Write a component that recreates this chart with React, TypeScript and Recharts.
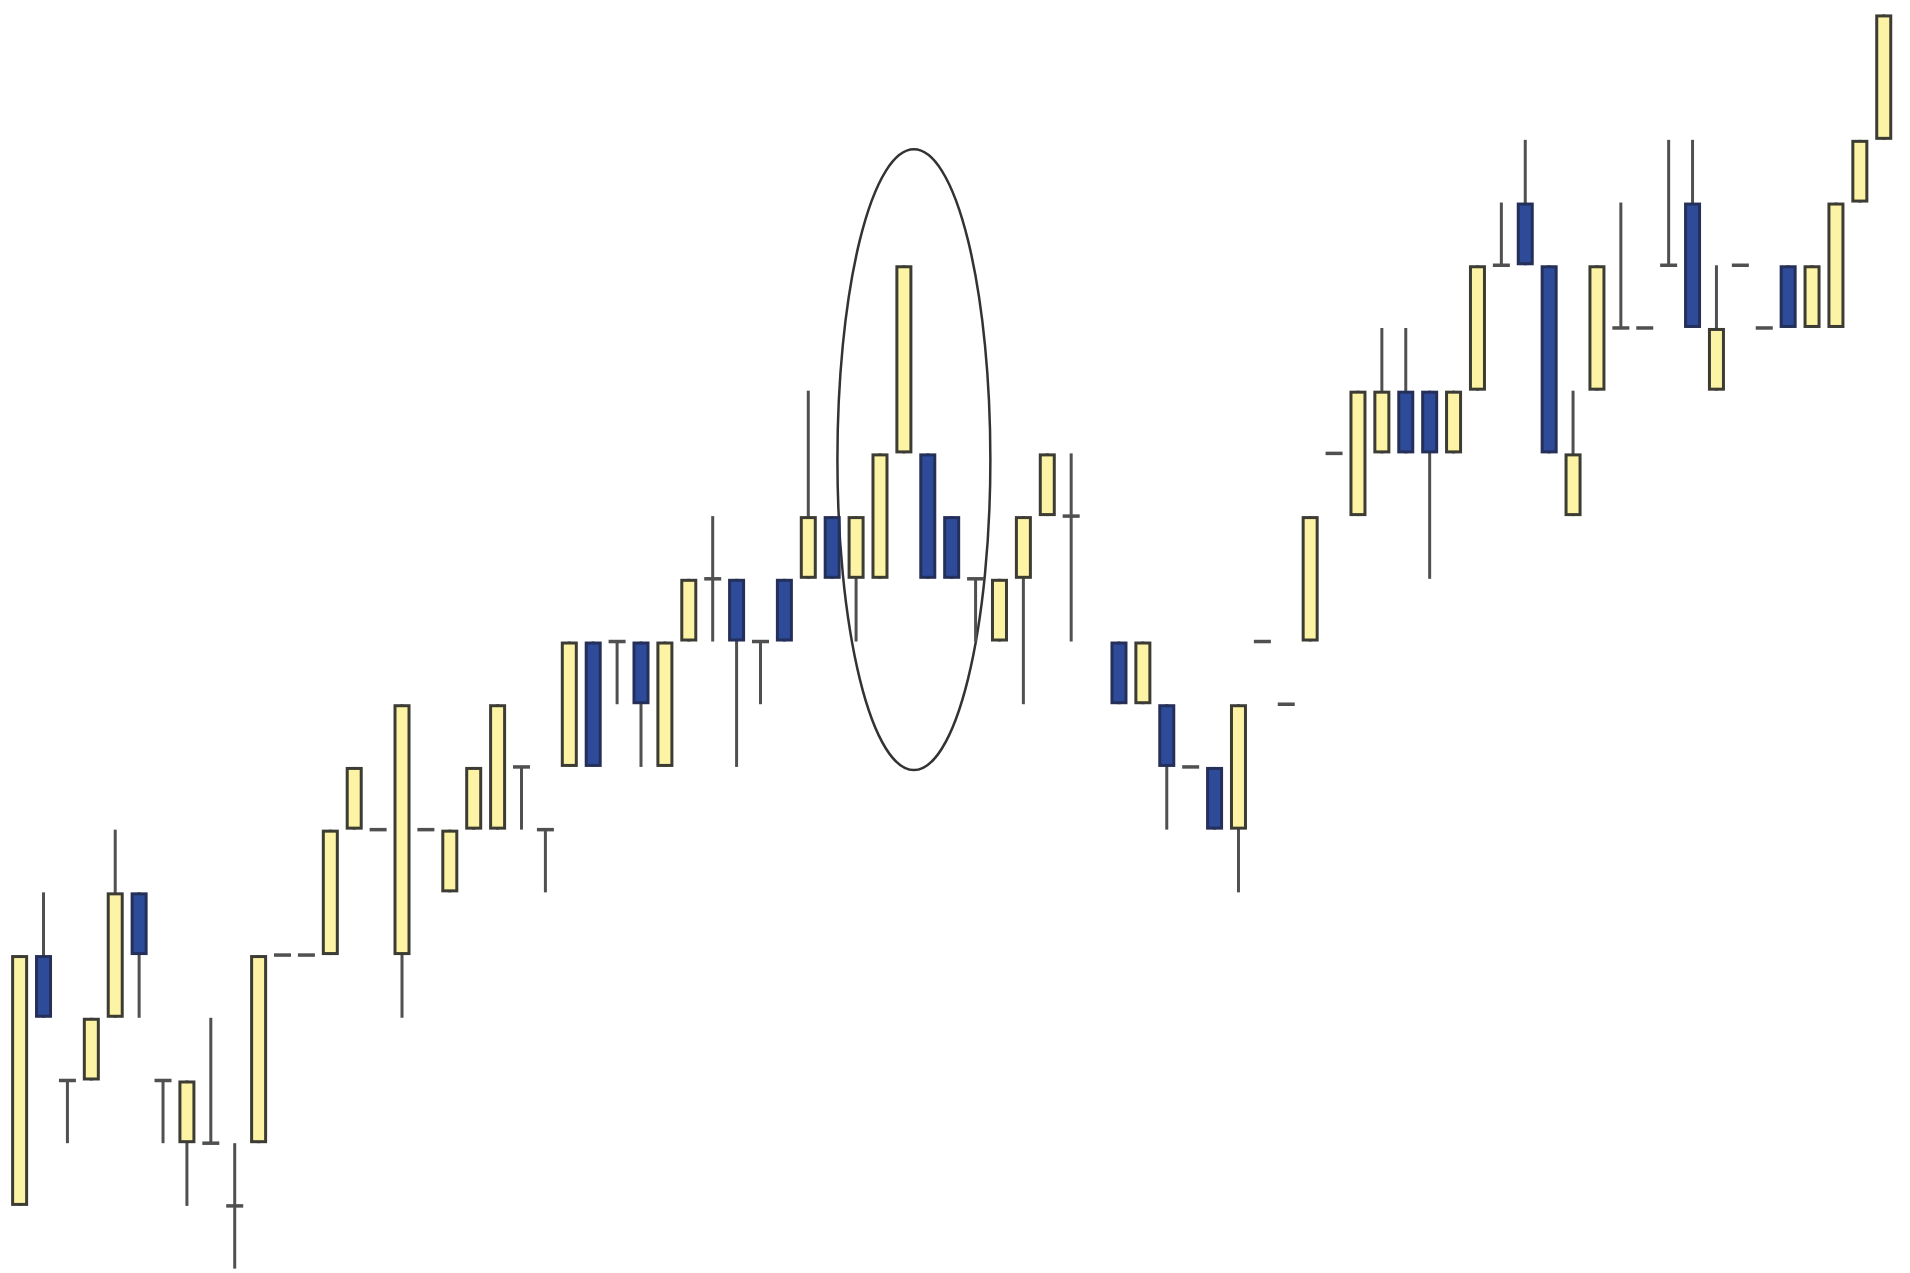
import { ComposedChart, Bar, XAxis, YAxis, ReferenceArea } from "recharts";

// price levels per session (slot 45 is an empty session)
const opens = [
  0, 4, 2, 2, 3, 5, 2, 1, 1, 0, 1, 4, 4, 4, 6, 6, 4, 6, 5, 6,
  6, 7, 6, 7, 9, 9, 9, 7, 9, 10, 10, 9, 10, 10, 11, 10, 10, 12, 12, 11,
  10, 9, 10, 11, 11, null, 9, 8, 8, 7, 7, 6, 9, 8, 9, 12, 11, 12, 13, 13,
  12, 13, 15, 16, 15, 11, 13, 14, 14, 15, 16, 13, 15, 14, 15, 14, 14, 16, 17,
];
const highs = [
  4, 5, 2, 3, 6, 5, 2, 2, 3, 1, 4, 4, 4, 6, 7, 6, 8, 6, 6, 7,
  8, 7, 6, 9, 9, 9, 9, 9, 10, 11, 10, 9, 10, 13, 11, 11, 12, 15, 12, 11,
  10, 10, 11, 12, 12, null, 9, 9, 8, 7, 7, 8, 9, 8, 11, 12, 13, 14, 14, 13,
  13, 15, 16, 17, 15, 13, 15, 16, 14, 17, 17, 15, 15, 14, 15, 15, 16, 17, 19,
];
const lows = [
  0, 3, 1, 2, 3, 3, 1, 0, 1, -1, 1, 4, 4, 4, 6, 6, 3, 6, 5, 6,
  6, 6, 5, 7, 7, 8, 7, 7, 9, 9, 7, 8, 9, 10, 10, 9, 10, 12, 10, 10,
  9, 9, 8, 11, 9, null, 8, 8, 6, 7, 6, 5, 9, 8, 9, 12, 11, 12, 12, 10,
  12, 13, 15, 15, 12, 11, 13, 14, 14, 15, 14, 13, 15, 14, 14, 14, 14, 16, 17,
];
const closes = [
  4, 3, 2, 3, 5, 4, 2, 2, 1, 0, 4, 4, 4, 6, 7, 6, 8, 6, 6, 7,
  8, 7, 6, 9, 7, 9, 8, 9, 10, 10, 9, 9, 9, 11, 10, 11, 12, 15, 10, 10,
  10, 10, 11, 12, 11, null, 8, 9, 7, 7, 6, 8, 9, 8, 11, 12, 13, 13, 12, 12,
  13, 15, 15, 15, 12, 12, 15, 14, 14, 15, 14, 14, 15, 14, 14, 15, 16, 17, 19,
];

// highlighted area (ellipse) in slot / level units
const ringSlots = [34.2, 40.6];
const ringLevels = [6.95, 16.85];

const X_MIN = -0.84;
const X_MAX = 79.08;
const Y_MIN = -1.07;
const Y_MAX = 19.23;

const UP = "#fcf4a4";
const DOWN = "#2e4b9a";
const EDGE = "#3c3c34";
const WICK = "#505050";

const data = opens.map((o, i) => ({
  slot: i,
  o,
  h: highs[i],
  l: lows[i],
  c: closes[i],
  range: o == null ? null : [Y_MIN, highs[i]],
}));

const Candle = (props: any) => {
  const { x, y, width, height, payload } = props;
  if (payload == null || payload.o == null) return null;
  const { o, h, l, c } = payload;
  const top = Math.min(y, y + height);
  const k = Math.abs(height) / (h - Y_MIN);
  const py = (v: number) => top + (h - v) * k;
  const cx = x + width / 2;
  const wick =
    h > l ? (
      <line x1={cx} x2={cx} y1={py(h)} y2={py(l)} stroke={WICK} strokeWidth={3} />
    ) : null;
  if (o === c) {
    return (
      <g>
        {wick}
        <line x1={x} x2={x + width} y1={py(o)} y2={py(o)} stroke={WICK} strokeWidth={3.5} />
      </g>
    );
  }
  const up = c > o;
  const yTop = py(Math.max(o, c));
  const yBot = py(Math.min(o, c));
  return (
    <g>
      {wick}
      <rect
        x={x + 1.5}
        y={yTop + 1.5}
        width={width - 3}
        height={yBot - yTop - 3}
        fill={up ? UP : DOWN}
        stroke={up ? EDGE : "#25305a"}
        strokeWidth={3}
      />
    </g>
  );
};

const Ring = (p: any) => (
  <ellipse
    cx={p.x + p.width / 2}
    cy={p.y + p.height / 2}
    rx={Math.abs(p.width) / 2}
    ry={Math.abs(p.height) / 2}
    fill="none"
    stroke="#333"
    strokeWidth={2.5}
  />
);

export default function App() {
  return (
    <div style={{ position: "absolute", left: 0, top: 0, width: 1910, height: 1273, background: "#fff" }}>
      <ComposedChart
        width={1910}
        height={1273}
        data={data}
        margin={{ top: 0, right: 0, bottom: 0, left: 0 }}
      >
        <XAxis dataKey="slot" type="number" domain={[X_MIN, X_MAX]} hide allowDataOverflow />
        <YAxis type="number" domain={[Y_MIN, Y_MAX]} hide allowDataOverflow />
        <Bar dataKey="range" barSize={17} shape={<Candle />} isAnimationActive={false} />
        <ReferenceArea
          x1={ringSlots[0]}
          x2={ringSlots[1]}
          y1={ringLevels[0]}
          y2={ringLevels[1]}
          shape={<Ring />}
          ifOverflow="visible"
        />
      </ComposedChart>
    </div>
  );
}
